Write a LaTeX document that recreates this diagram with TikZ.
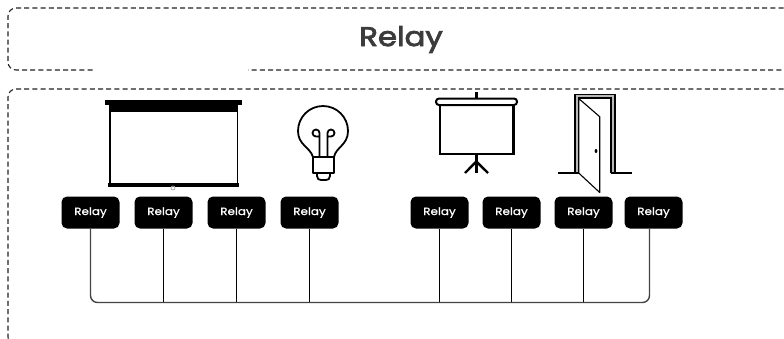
\documentclass[tikz,border=0pt]{standalone}
\usepackage{fontspec}
\setmainfont{Poppins}
\newfontfamily\titlefont[FakeStretch=1.14,FakeBold=3]{Poppins}
\newfontfamily\relayfont[FakeStretch=1.14,FakeBold=0.6]{Poppins}
\definecolor{dashc}{HTML}{222222}
\definecolor{titlec}{HTML}{3C3C3C}
\definecolor{busc}{HTML}{444444}
\tikzset{
  dashbox/.style={draw=dashc,line width=1.1pt,rounded corners=8pt,dash pattern=on 5pt off 3.2pt},
  relaybox/.style={fill=black,draw=none,rounded corners=5.5pt,minimum width=58pt,minimum height=32pt,inner sep=0pt,text=white,font=\relayfont\fontsize{10.5}{12}\selectfont},
  wire/.style={draw=black,line width=1.1pt},
  bus/.style={draw=busc,line width=1.4pt,rounded corners=7pt},
  icon/.style={draw=black,line width=2pt,line join=round},
  thin icon/.style={draw=black,line width=1.1pt,line join=round},
}
\begin{document}
\begin{tikzpicture}[x=1pt,y=-1pt]
\useasboundingbox (0,0) rectangle (784,338);
\fill[white] (0,0) rectangle (784,338);
\begin{scope}
\clip (0,0) rectangle (784,338);
\draw[dashbox] (800,8) -- (8,8) -- (8,70) -- (800,70);
\fill[white] (95,66) rectangle (248,74);
\draw[dashbox] (800,89) -- (8,89) -- (8,345) -- (800,345);
\end{scope}
\node[text=titlec,font=\titlefont\fontsize{27}{32}\selectfont] (title) at (401,39.5) {Relay};
% wall screen
\fill[black] (105,100) rectangle (242,104.5);
\fill[black] (109,104) rectangle (238,112);
\draw[black,line width=1.6pt] (110,112) -- (110,184);
\draw[black,line width=1.6pt] (237.5,112) -- (237.5,184);
\fill[black] (107.5,183) rectangle (239,186.5);
\draw[gray!70,line width=0.7pt] (173,188) circle (2pt);
% lamp
\draw[icon,line width=1.8pt] (313,157) .. controls (310,147) and (298,145) .. (298,131)
  arc[start angle=180,end angle=360,radius=25]
  .. controls (348,145) and (336,147) .. (334,157);
\draw[icon,line width=1.8pt] (313,157) rectangle (334,173);
\draw[icon,line width=1.8pt] (317,173) -- (317,176) .. controls (317,179) and (319,180) .. (321,180) -- (326,180) .. controls (328,180) and (330,179) .. (330,176) -- (330,173);
\draw[icon,line width=1.8pt] (319.5,157) -- (319.5,136.5) -- (316,136.5) arc[start angle=90,end angle=360,radius=3.5] -- (319.5,136.5);
\draw[icon,line width=1.8pt] (327.5,157) -- (327.5,133) arc[start angle=180,end angle=450,radius=3.5] -- (327.5,136.5);
% stand screen
\draw[icon,line width=2.4pt] (476.3,92) -- (476.3,98);
\draw[icon,line width=2pt,rounded corners=3pt] (436,98.5) rectangle (517,105);
\draw[icon,line width=2.4pt,line join=miter] (440,105) rectangle (513.5,154);
\draw[icon,line width=2.4pt,line join=miter] (476.3,154) -- (476.3,173);
\draw[icon,line width=2.4pt,line join=miter] (465,173) -- (476.3,161.5) -- (488,173);
% door
\fill[gray!55] (575.5,95) rectangle (614.5,173);
\fill[white] (579,98.5) rectangle (611,175);
\draw[thin icon,line join=miter] (575,173) -- (575,94.7) -- (615,94.7) -- (615,173);
\draw[thin icon,line join=miter] (578.5,173) -- (578.5,98) -- (611,98) -- (611,173);
\draw[icon,line width=1.4pt] (558.3,173) -- (578.5,173);
\draw[icon,line width=1.4pt] (611,173) -- (631.7,173);
\draw[thin icon,fill=white] (578.7,98.5) -- (599.7,116.7) -- (599.7,192.5) -- (578.7,173) -- cycle;
\fill[black] (596,151) ellipse (1.4pt and 2pt);
% relays
\node[relaybox] (r1) at (90.5,212.5) {Relay};
\node[relaybox] (r2) at (163.5,212.5) {Relay};
\node[relaybox] (r3) at (236.5,212.5) {Relay};
\node[relaybox] (r4) at (309.5,212.5) {Relay};
\node[relaybox] (r5) at (439.5,212.5) {Relay};
\node[relaybox] (r6) at (511.5,212.5) {Relay};
\node[relaybox] (r7) at (583.5,212.5) {Relay};
\node[relaybox] (r8) at (653.5,212.5) {Relay};
\coordinate (b2) at (163.5,302.5);
\coordinate (b3) at (236.5,302.5);
\coordinate (b4) at (309.5,302.5);
\coordinate (b5) at (439.5,302.5);
\coordinate (b6) at (511.5,302.5);
\coordinate (b7) at (583.5,302.5);
\coordinate (c1) at (90.5,302.5);
\coordinate (c8) at (649.5,302.5);
\coordinate (t8) at (649.5,228.5);
\draw[wire] (r2.south) -- (b2);
\draw[wire] (r3.south) -- (b3);
\draw[wire] (r4.south) -- (b4);
\draw[wire] (r5.south) -- (b5);
\draw[wire] (r6.south) -- (b6);
\draw[wire] (r7.south) -- (b7);
\draw[bus] (r1.south) -- (c1) -- (c8) -- (t8);
\end{tikzpicture}
\end{document}
